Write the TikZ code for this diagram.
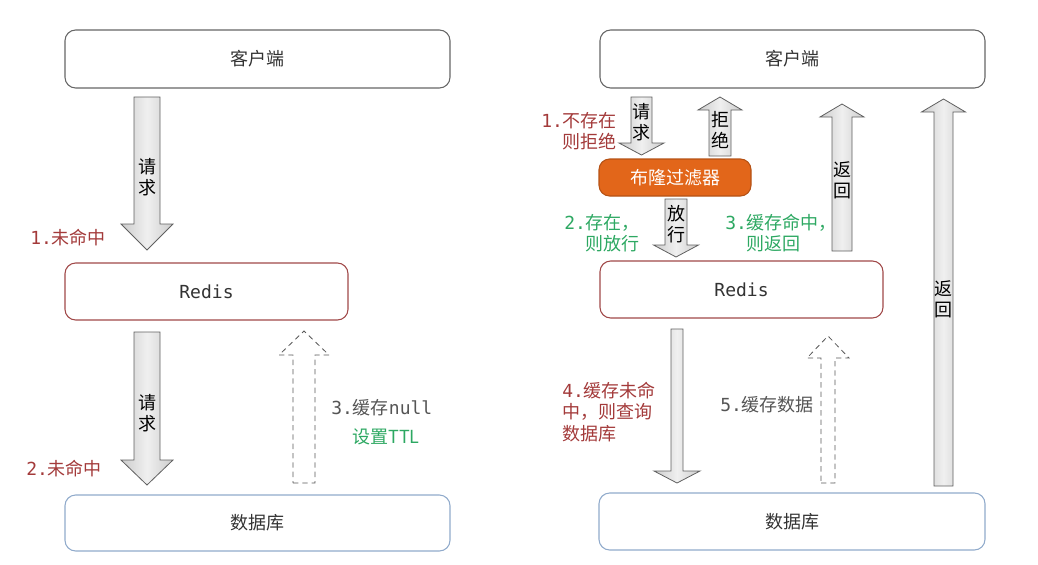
\documentclass[tikz,border=0pt]{standalone}
\usepackage{fontspec}
\setmainfont{Noto Sans CJK SC}
\newfontfamily\mono{DejaVu Sans Mono}
\definecolor{labred}{HTML}{A33A3A}
\definecolor{labgreen}{HTML}{2DA862}
\definecolor{labgray}{HTML}{555555}
\definecolor{txt}{HTML}{333333}
\definecolor{clientline}{HTML}{666666}
\definecolor{redisline}{HTML}{A04848}
\definecolor{dbline}{HTML}{90AACB}
\definecolor{bloom}{HTML}{E2661A}
\newcommand\fs{\fontsize{13.5pt}{16pt}\selectfont}
% block arrow: #1 style, #2 x centre, #3 tail y, #4 head base y, #5 tip y, #6 shaft half width, #7 head half width
\newcommand\barr[7]{\draw[#1] ({#2-#6},#3) -- ({#2+#6},#3) -- ({#2+#6},#4) -- ({#2+#7},#4) -- (#2,#5) -- ({#2-#7},#4) -- ({#2-#6},#4) -- cycle;}
\begin{document}
\begin{tikzpicture}[x=0.75pt,y=-0.75pt,
  box/.style={draw, rounded corners=8, line width=0.8pt, inner sep=0pt, text=txt, font=\fs},
  solidarrow/.style={draw=gray!75!black, line width=0.6pt, left color=gray!40, right color=gray!40, middle color=gray!12},
  dasharrow/.style={draw=gray!70!black, line width=0.6pt, dashed, dash pattern=on 4pt off 3pt, fill=white},
  lbl/.style={inner sep=0pt, font=\fs, align=left},
  inarrow/.style={inner sep=0pt, font=\fs, text=black, align=center}
]
\useasboundingbox (0,0) rectangle (1038,564);
% ---------------- left diagram ----------------
\node[box, draw=clientline, minimum width=385*0.75pt, minimum height=58*0.75pt] (lclient) at (257.5,59) {客户端};
\node[box, draw=redisline, minimum width=283*0.75pt, minimum height=57*0.75pt] (lredis) at (206.5,291.5) {\mono Redis};
\node[box, draw=dbline, minimum width=385*0.75pt, minimum height=56*0.75pt] (ldb) at (257.5,523) {数据库};

\barr{solidarrow}{147}{97}{224}{250}{13}{26}
\node[inarrow] (lreq1) at (147,177) {请\\求};
\barr{solidarrow}{147}{332}{460}{485}{13}{26}
\node[inarrow] (lreq2) at (147,413) {请\\求};
\barr{dasharrow}{304}{483}{355}{331}{11}{25}

\node[lbl, text=labred, anchor=west] (l1) at (30,238) {{\mono 1.}未命中};
\node[lbl, text=labred, anchor=west] (l2) at (26,469) {{\mono 2.}未命中};
\node[lbl, text=labgray, anchor=west] (l3) at (331,408) {{\mono 3.}缓存{\mono null}};
\node[lbl, text=labgreen, anchor=west] (l3b) at (352,437) {设置TTL};

% ---------------- right diagram ----------------
\node[box, draw=clientline, minimum width=385*0.75pt, minimum height=58*0.75pt] (rclient) at (792.5,59) {客户端};
\node[box, draw=bloom!80!black, fill=bloom, text=white, minimum width=152*0.75pt, minimum height=37*0.75pt] (bloomf) at (675,177.5) {布隆过滤器};
\node[box, draw=redisline, minimum width=283*0.75pt, minimum height=57*0.75pt] (rredis) at (741.5,289.5) {\mono Redis};
\node[box, draw=dbline, minimum width=386*0.75pt, minimum height=57*0.75pt] (rdb) at (792,521.5) {数据库};

\barr{solidarrow}{641.5}{97}{143}{155}{10.5}{22.5}
\node[inarrow] (rreq) at (641.5,122) {请\\求};
\barr{solidarrow}{720}{156}{110}{97}{11}{22}
\node[inarrow] (rrej) at (720,130) {拒\\绝};
\barr{solidarrow}{676}{199}{245}{257}{11}{22.5}
\node[inarrow] (rpass) at (676,224) {放\\行};
\barr{solidarrow}{842}{251}{117}{104}{10}{22}
\node[inarrow] (rret1) at (842,180) {返\\回};
\barr{solidarrow}{943.5}{486}{112}{99}{9.5}{22}
\node[inarrow] (rret2) at (943.5,299) {返\\回};
\barr{solidarrow}{677}{329}{471}{483}{6}{23}
\barr{dasharrow}{828}{483}{358}{336}{7}{21}

\node[lbl, text=labred, anchor=west] (r1) at (541,131) {{\mono 1.}不存在\\{\mono\hphantom{1.}}则拒绝};
\node[lbl, text=labgreen, anchor=west] (r2) at (564,233) {{\mono 2.}存在，\\{\mono\hphantom{2.}}则放行};
\node[lbl, text=labgreen, anchor=west] (r3) at (725,233) {{\mono 3.}缓存命中，\\{\mono\hphantom{3.}}则返回};
\node[lbl, text=labred, anchor=west] (r4) at (562,412) {{\mono 4.}缓存未命\\中，则查询\\数据库};
\node[lbl, text=labgray, anchor=west] (r5) at (720,405) {{\mono 5.}缓存数据};
\end{tikzpicture}
\end{document}
